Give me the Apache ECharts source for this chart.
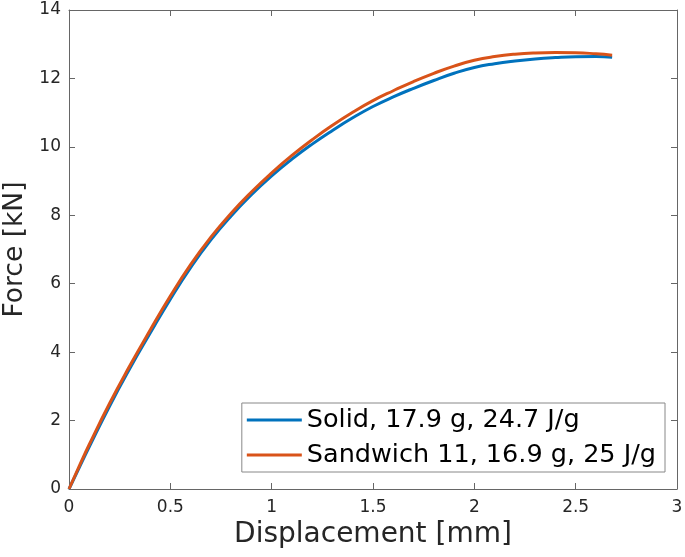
<!DOCTYPE html>
<html>
<head>
<meta charset="utf-8">
<script src="https://cdn.jsdelivr.net/npm/echarts@6/dist/echarts.min.js"></script>
<style>
  html, body { margin: 0; padding: 0; background: #fff; }
  #chart { width: 685px; height: 557px; }
</style>
</head>
<body>
<div id="chart"></div>
<script>
// displacement [mm], shared by both curves
const displacement = [0, 0.05, 0.1, 0.2, 0.3, 0.4, 0.5, 0.6, 0.7, 0.8, 0.9, 1.0, 1.1, 1.2, 1.3, 1.4,
  1.5, 1.6, 1.7, 1.8, 1.9, 2.0, 2.1, 2.2, 2.3, 2.4, 2.5, 2.6, 2.68];
// force [kN]
const solidForce = [0, 0.62, 1.23, 2.42, 3.52, 4.55, 5.55, 6.47, 7.28, 7.98, 8.6, 9.15, 9.64, 10.08, 10.48, 10.85,
  11.18, 11.46, 11.71, 11.94, 12.15, 12.32, 12.43, 12.51, 12.57, 12.61, 12.635, 12.64, 12.62];
const sandwichForce = [0, 0.66, 1.3, 2.5, 3.6, 4.64, 5.64, 6.56, 7.36, 8.06, 8.68, 9.24, 9.75, 10.21, 10.63, 11.01,
  11.35, 11.64, 11.91, 12.15, 12.36, 12.53, 12.64, 12.71, 12.745, 12.755, 12.75, 12.72, 12.68];
const seriesNames = ['Solid, 17.9 g, 24.7 J/g', 'Sandwich 11, 16.9 g, 25 J/g'];

const pairs = ys => displacement.map((x, i) => [x, ys[i]]);
const axisColor = '#262626';
const frameColor = '#666';
const font = 'DejaVu Sans';

const chart = echarts.init(document.getElementById('chart'), null, { renderer: 'canvas' });

const baseX = {
  type: 'value', min: 0, max: 3, interval: 0.5,
  axisLine: { show: true, onZero: false, lineStyle: { color: frameColor, width: 1 } },
  axisTick: { show: true, inside: true, length: 6, lineStyle: { color: frameColor } },
  splitLine: { show: false }
};
const baseY = {
  type: 'value', min: 0, max: 14, interval: 2,
  axisLine: { show: true, onZero: false, lineStyle: { color: frameColor, width: 1 } },
  axisTick: { show: true, inside: true, length: 6, lineStyle: { color: frameColor } },
  splitLine: { show: false }
};

chart.setOption({
  backgroundColor: '#fff',
  animation: false,
  grid: { left: 69, right: 8, top: 10, bottom: 68, containLabel: false, outerBoundsMode: 'none' },
  xAxis: [
    Object.assign({}, baseX, {
      position: 'bottom',
      name: 'Displacement [mm]',
      nameLocation: 'middle',
      nameGap: 31,
      nameTextStyle: { color: axisColor, fontSize: 28, fontFamily: font },
      axisLabel: { color: axisColor, fontSize: 17, fontFamily: font, margin: 10 }
    }),
    Object.assign({}, baseX, { position: 'top', axisLabel: { show: false } })
  ],
  yAxis: [
    Object.assign({}, baseY, {
      position: 'left',
      name: 'Force [kN]',
      nameLocation: 'middle',
      nameGap: 37,
      nameTextStyle: { color: axisColor, fontSize: 26.5, fontFamily: font },
      axisLabel: { color: axisColor, fontSize: 17, fontFamily: font, margin: 8 }
    }),
    Object.assign({}, baseY, { position: 'right', axisLabel: { show: false } })
  ],
  legend: {
    orient: 'vertical',
    right: 20,
    top: 403,
    padding: [2, 9, 2, 5],
    itemGap: 5,
    itemWidth: 55,
    itemHeight: 3,
    icon: 'rect',
    backgroundColor: '#fff',
    borderColor: '#888',
    borderWidth: 1,
    borderRadius: 0,
    textStyle: { color: '#000', fontSize: 25.5, fontFamily: font, lineHeight: 30 },
    data: seriesNames
  },
  series: [
    {
      name: seriesNames[0], type: 'line', data: pairs(solidForce),
      smooth: true, symbol: 'none', color: '#0072BD',
      lineStyle: { width: 3, color: '#0072BD' }
    },
    {
      name: seriesNames[1], type: 'line', data: pairs(sandwichForce),
      smooth: true, symbol: 'none', color: '#D95319',
      lineStyle: { width: 3, color: '#D95319' }
    }
  ]
});
</script>
</body>
</html>
